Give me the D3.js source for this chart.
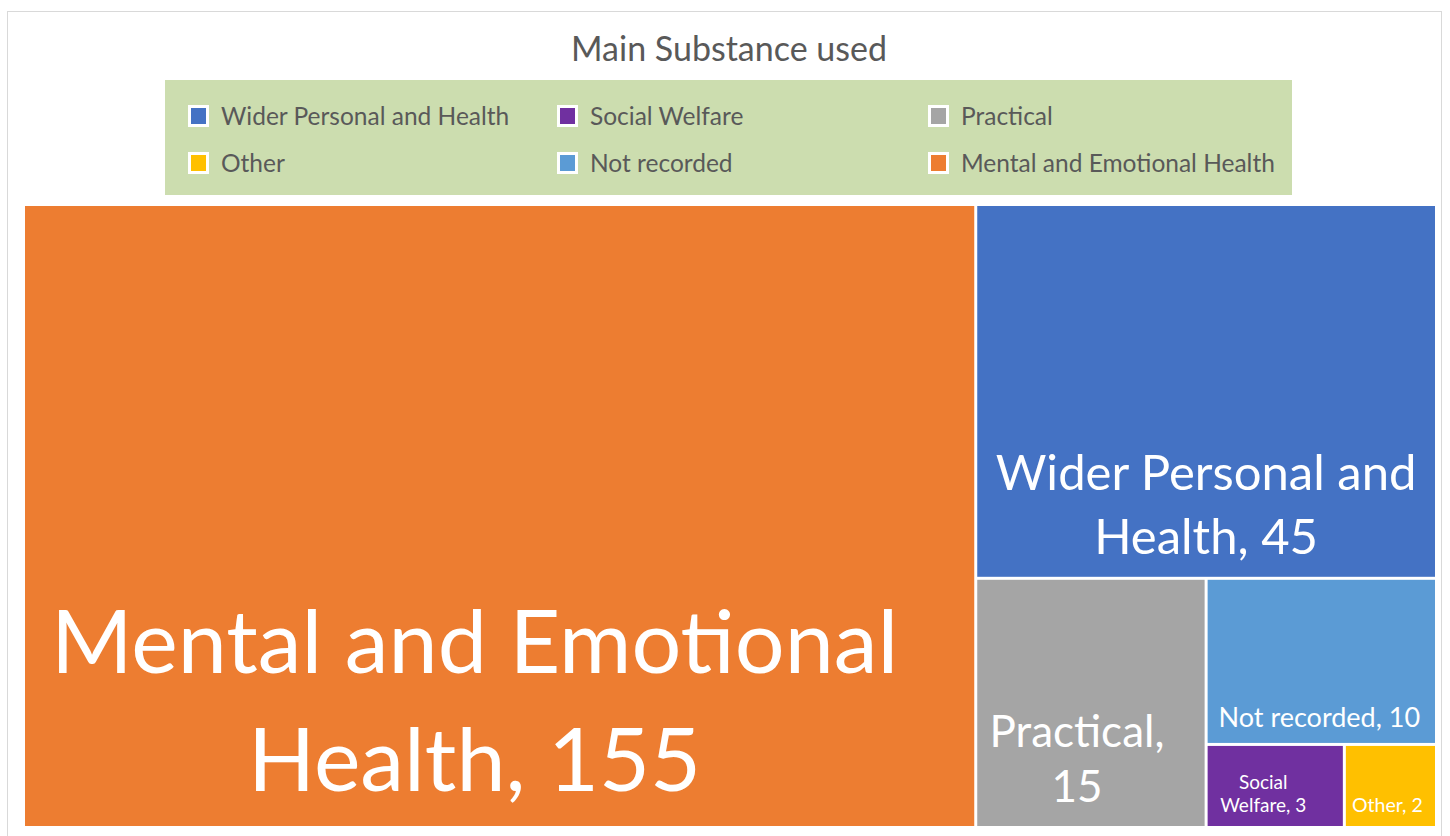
<!DOCTYPE html>
<html>
<head>
<meta charset="utf-8">
<script src="https://cdn.jsdelivr.net/npm/d3@7"></script>
<style>
  body { margin: 0; background: #fff; }
  svg { font-family: Lato, "Open Sans", sans-serif; }
</style>
</head>
<body>
<svg id="chart" width="1450" height="836"></svg>
<script>
// data
const categories = ['Mental and Emotional Health', 'Wider Personal and Health', 'Practical', 'Not recorded', 'Social Welfare', 'Other'];
const values = [155, 45, 15, 10, 3, 2];
const legendOrder = ['Wider Personal and Health', 'Social Welfare', 'Practical', 'Other', 'Not recorded', 'Mental and Emotional Health'];
const chartTitle = 'Main Substance used';

const colors = {
  'Mental and Emotional Health': '#ED7D31',
  'Wider Personal and Health': '#4472C4',
  'Practical': '#A5A5A5',
  'Not recorded': '#5B9BD5',
  'Social Welfare': '#7030A0',
  'Other': '#FFC000'
};

// label styling per cell: font size, wrapped lines, spacing, offset from bottom
const labelStyle = {
  'Mental and Emotional Health': { size: 88, lines: ['Mental and Emotional', 'Health, 155'], lh: 1.34, bottom: 35, dx: -25 },
  'Wider Personal and Health': { size: 49, lines: ['Wider Personal and', 'Health, 45'], lh: 1.31, bottom: 23, dx: 0 },
  'Practical': { size: 44, lines: ['Practical,', '15'], lh: 1.25, bottom: 24, dx: -14 },
  'Not recorded': { size: 27, lines: ['Not recorded, 10'], lh: 1.2, bottom: 16, dx: -2 },
  'Social Welfare': { size: 19, lines: ['Social', 'Welfare, 3'], lh: 1.22, bottom: 14, dx: -12 },
  'Other': { size: 19.5, lines: ['Other, 2'], lh: 1.2, bottom: 14, dx: -3 }
};

const svg = d3.select('#chart');

// outer frame
svg.append('rect')
  .attr('x', 7.5).attr('y', 11.5)
  .attr('width', 1434).attr('height', 830)
  .attr('fill', 'none')
  .attr('stroke', '#d9d9d9');

// title
svg.append('text')
  .attr('x', 729).attr('y', 61)
  .attr('text-anchor', 'middle')
  .attr('font-size', 34)
  .attr('fill', '#595959')
  .text(chartTitle);

// legend
svg.append('rect')
  .attr('x', 165).attr('y', 80)
  .attr('width', 1127).attr('height', 115)
  .attr('fill', '#CCDDAF');

const colX = [188, 557, 928];
const rowY = [116, 163];
const legend = svg.append('g').selectAll('g')
  .data(legendOrder)
  .join('g')
  .attr('transform', (d, i) => `translate(${colX[i % 3]},${rowY[Math.floor(i / 3)]})`);

legend.append('rect')
  .attr('x', 1.5).attr('y', -9.5)
  .attr('width', 18).attr('height', 19)
  .attr('fill', (d) => colors[d])
  .attr('stroke', '#fff')
  .attr('stroke-width', 3);

legend.append('text')
  .attr('x', 33).attr('y', 0)
  .attr('dy', '0.35em')
  .attr('font-size', 24.5)
  .attr('fill', '#595959')
  .text((d) => d);

// treemap
const root = d3.hierarchy({
  children: categories.map((c, i) => ({ name: c, value: values[i] }))
})
  .sum((d) => d.value || 0)
  .sort((a, b) => b.value - a.value);

d3.treemap()
  .tile(d3.treemapSquarify.ratio(1))
  .size([1410, 620])
  .paddingInner(3)(root);

const cells = svg.append('g')
  .attr('transform', 'translate(25,206)')
  .selectAll('g')
  .data(root.leaves())
  .join('g')
  .attr('transform', (d) => `translate(${d.x0},${d.y0})`);

cells.append('rect')
  .attr('width', (d) => d.x1 - d.x0)
  .attr('height', (d) => d.y1 - d.y0)
  .attr('fill', (d) => colors[d.data.name]);

cells.each(function (d) {
  const s = labelStyle[d.data.name];
  const w = d.x1 - d.x0;
  const h = d.y1 - d.y0;
  const n = s.lines.length;
  const t = d3.select(this).append('text')
    .attr('text-anchor', 'middle')
    .attr('fill', '#fff')
    .attr('font-size', s.size);
  s.lines.forEach((line, i) => {
    t.append('tspan')
      .attr('x', w / 2 + s.dx)
      .attr('y', h - s.bottom - (n - 1 - i) * s.size * s.lh)
      .text(line);
  });
});
</script>
</body>
</html>
